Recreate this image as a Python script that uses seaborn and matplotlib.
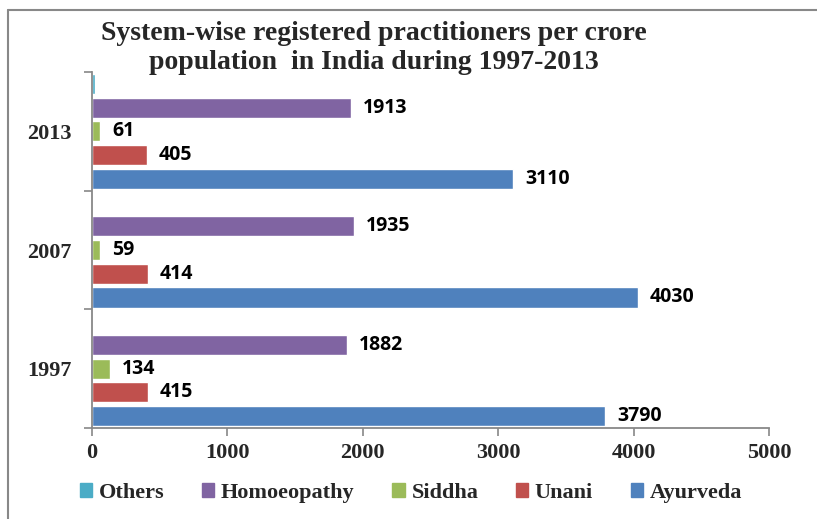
import pandas as pd
import seaborn as sns
import matplotlib.pyplot as plt
from matplotlib.lines import Line2D

# chart values
years = ['2013', '2007', '1997']
systems = ['Others', 'Homoeopathy', 'Siddha', 'Unani', 'Ayurveda']
ayurveda = [3110, 4030, 3790]
unani = [405, 414, 415]
siddha = [61, 59, 134]
homoeopathy = [1913, 1935, 1882]
others = [25, 0, 0]
colors = ['#4BACC6', '#8064A2', '#9BBB59', '#C0504D', '#4F81BD']

series = {'Others': others, 'Homoeopathy': homoeopathy, 'Siddha': siddha,
          'Unani': unani, 'Ayurveda': ayurveda}
rows = []
for name, vals in series.items():
    for yr, v in zip(years, vals):
        rows.append({'year': yr, 'system': name, 'value': v})
df = pd.DataFrame(rows)

sns.set_style('white')
fig = plt.figure(figsize=(8.17, 5.19), dpi=100)
ax = fig.add_axes([92 / 817, 91 / 519, 677 / 817, 356 / 519])

sns.barplot(data=df, y='year', x='value', hue='system', order=years,
            hue_order=systems, palette=colors, orient='h', width=1.0,
            gap=0.15, saturation=1, legend=False, ax=ax)

# data labels (others are too small to label)
for cont, name in zip(ax.containers, systems):
    if name == 'Others':
        continue
    for bar in cont:
        w = bar.get_width()
        ax.annotate(f'{int(w)}', (w, bar.get_y() + bar.get_height() / 2),
                    xytext=(8.5, 0), textcoords='offset points',
                    ha='left', va='center', fontsize=14,
                    fontweight='bold', family='Open Sans', color='black')

ax.set_xlim(0, 5000)
ax.set_ylim(2.5, -0.5)
ax.set_xticks(range(0, 5001, 1000))
ax.set_yticks([-0.5, 0.5, 1.5, 2.5], minor=False)
ax.set_yticklabels([])
ax.set_yticks([0, 1, 2], minor=True)
ax.set_yticklabels(years, minor=True)
ax.tick_params(axis='y', which='minor', length=0, pad=15)
ax.tick_params(axis='y', which='major', length=6, color='#888888', width=1.2,
               direction='out', left=True)
ax.tick_params(axis='x', length=6, color='#888888', width=1.2,
               direction='out', bottom=True, pad=5)
for lab in ax.get_yticklabels(minor=True) + ax.get_xticklabels():
    lab.set_family('Liberation Serif')
    lab.set_fontweight('bold')
    lab.set_fontsize(16)
ax.set_xlabel('')
ax.set_ylabel('')
sns.despine(ax=ax, top=True, right=True)
for side in ['left', 'bottom']:
    ax.spines[side].set_color('#888888')
    ax.spines[side].set_linewidth(1.3)

fig.text(374 / 817, 1 - 48 / 519,
         'System-wise registered practitioners per crore\npopulation  in India during 1997-2013',
         ha='center', va='center', family='Liberation Serif', fontweight='bold',
         fontsize=20, linespacing=1.25)

handles = [plt.Rectangle((0, 0), 1, 1, color=c) for c in colors]
fig.legend(handles, systems, loc='center', bbox_to_anchor=(411 / 817, 1 - 493 / 519),
           ncol=5, frameon=False, handlelength=0.55, handleheight=0.55,
           handletextpad=0.3, columnspacing=1.7,
           prop={'family': 'Liberation Serif', 'weight': 'bold', 'size': 16})

# outer chart frame (top and left edges visible)
fig.add_artist(Line2D([8 / 817, 1], [1 - 10 / 519, 1 - 10 / 519],
                      transform=fig.transFigure, color='#888888', lw=1.5))
fig.add_artist(Line2D([8 / 817, 8 / 817], [0, 1 - 10 / 519],
                      transform=fig.transFigure, color='#888888', lw=1.5))

fig.savefig('out.png', dpi=100)
